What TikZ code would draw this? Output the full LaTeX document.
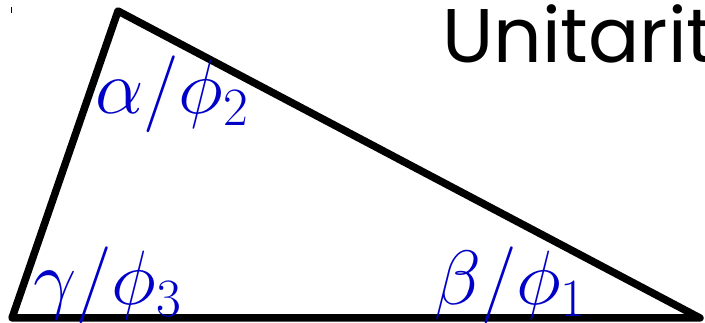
\documentclass[tikz,border=0pt]{standalone}
\usepackage{fix-cm}
\usepackage{fontspec}
\newfontfamily\titlefont{Poppins}
\definecolor{lblue}{RGB}{0,0,200}
\begin{document}
\begin{tikzpicture}[x=1pt,y=-1pt,
  edge/.style={line width=7.5pt,line join=round,line cap=round},
  anglelbl/.style={text=lblue,font=\fontsize{77}{82}\selectfont,inner sep=0pt,anchor=base west},
  ttl/.style={font=\titlefont\fontsize{76}{80}\selectfont,inner sep=0pt,anchor=base west}]
\useasboundingbox (0,0) rectangle (705,323);
\clip (0,0) rectangle (705,323);
\coordinate (A) at (118,11);
\coordinate (C) at (12,318);
\coordinate (B) at (700,318);
\draw[edge] (A) -- (C) -- (B) -- cycle;
\draw[line width=0.8pt] (11,7) coordinate (t1) -- (11,13) coordinate (t2);
\node[anglelbl] (alpha) at (95,114) {$\alpha/\phi_2$};
\node[anglelbl] (gamma) at (33,305) {$\gamma/\phi_3$};
\node[anglelbl] (beta) at (434,305) {$\beta/\phi_1$};
\node[ttl] (title) at (442,63) {Unitarit};
\end{tikzpicture}
\end{document}
